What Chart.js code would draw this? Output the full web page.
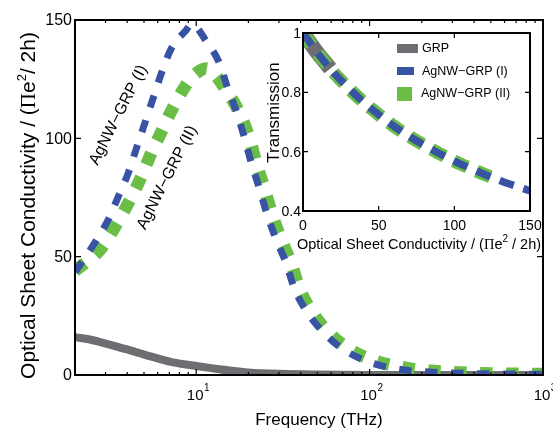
<!DOCTYPE html>
<html>
<head>
<meta charset="utf-8">
<script src="https://cdn.jsdelivr.net/npm/chart.js@4.4.1/dist/chart.umd.min.js"></script>
<style>
  html, body { margin: 0; padding: 0; background: #ffffff; overflow: hidden; }
  #wrap { position: relative; width: 553px; height: 429px; }
  canvas { position: absolute; left: 0; top: 0; }
</style>
</head>
<body>
<div id="wrap">
  <canvas id="main" width="553" height="429"></canvas>
  <canvas id="inset" width="553" height="429"></canvas>
</div>
<script>
// ---------------- Data ----------------
// Main panel: optical sheet conductivity vs frequency (THz)
const freqGRP  = [2, 2.5, 3.04, 4, 4.73, 6, 7.35, 10, 12.5, 16, 20, 30, 50, 100, 1000];
const sigmaGRP = [16, 14.8, 13.2, 10.8, 9.2, 7, 5.3, 3.8, 2.8, 1.8, 1.1, 0.5, 0.2, 0.05, 0];

const freqI  = [2, 2.55, 3.07, 3.55, 4.05, 4.52, 5.05, 5.64, 6.3, 7.19, 8.77, 9.4, 11.5, 13.6, 15.1, 17.1, 19.0, 20.8, 23.1, 25.7, 29.0, 33.0, 36.7, 43.6, 54.7, 71.3, 103, 158, 219, 400, 1000];
const sigmaI = [43.5, 54.9, 64.8, 75.3, 85.2, 95.8, 106.3, 116.9, 127.5, 138, 145.8, 148.3, 140.7, 131.8, 121.7, 111.1, 100.1, 89.6, 79.0, 67.6, 57.0, 47.3, 36.8, 26.6, 17.7, 10.6, 5.1, 2.1, 1.3, 0.6, 0.3];

const freqII  = [2, 2.78, 3.43, 4.05, 4.73, 5.45, 6.3, 7.35, 8.87, 10, 11.4, 12.8, 14.6, 17.4, 20.3, 22.2, 24.7, 27.5, 31, 35.3, 39.3, 46.7, 58.5, 76.2, 109, 162, 225, 400, 1000];
const sigmaII = [44, 52.8, 63.0, 72.5, 82.4, 93, 102.8, 113, 123.2, 127.5, 129.5, 127, 121.3, 112, 100, 89.6, 79, 67.6, 57, 47.3, 36.8, 26.6, 17.7, 11, 5.9, 3.0, 1.8, 0.8, 0.4];

// Inset: transmission vs optical sheet conductivity
const condGRP  = [0, 9, 18];
const transGRP = [1.0, 0.937, 0.88];
const condI  = [0, 10, 20, 30, 40, 50, 60, 70, 80, 90, 100, 110, 120, 130, 140, 150];
const transI = [1.0, 0.93, 0.868, 0.815, 0.767, 0.725, 0.686, 0.652, 0.622, 0.594, 0.568, 0.545, 0.523, 0.503, 0.485, 0.468];
const condII  = [0, 10, 20, 30, 40, 50, 60, 70, 80, 90, 100, 110, 120, 128];
const transII = [1.0, 0.93, 0.868, 0.815, 0.767, 0.725, 0.686, 0.652, 0.622, 0.594, 0.568, 0.545, 0.523, 0.507];

// Tick labels
const yTicksMain = [0, 50, 100, 150];
const xTicksMain = [10, 100, 1000];
const xTickExps  = ['1', '2', '3'];
const yTicksInset = [0.4, 0.6, 0.8, 1];
const yTickLabelsInset = ['0.4', '0.6', '0.8', '1'];
const xTicksInset = [0, 50, 100, 150];

const seriesNames = ['GRP', 'AgNW\u2212GRP (I)', 'AgNW\u2212GRP (II)'];
// annotation anchors (frequency, conductivity) for the rotated curve labels
const annotI  = [3.56, 109.8];
const annotII = [6.8, 83.4];

// ---------------- Styles ----------------
const GRAY = '#6D6E71', BLUE = '#3953A4', GREEN = '#6ABD45';
const SANS = '"Liberation Sans", Arial, sans-serif';
const SERIF = '"Liberation Serif", "Times New Roman", serif';

function pts(xs, ys) { return xs.map((v, i) => ({ x: v, y: ys[i] })); }

function drawRich(ctx, pieces, x, y, align, angle) {
  ctx.save();
  ctx.translate(x, y);
  ctx.rotate(angle || 0);
  ctx.textAlign = 'left';
  ctx.textBaseline = 'alphabetic';
  let total = 0;
  pieces.forEach(p => { ctx.font = p.f; p.w = ctx.measureText(p.t).width; total += p.w; });
  let cx = align === 'center' ? -total / 2 : (align === 'right' ? -total : 0);
  pieces.forEach(p => { ctx.font = p.f; ctx.fillText(p.t, cx, p.dy || 0); cx += p.w; });
  ctx.restore();
}

// ---------------- Main chart ----------------
const mainDecor = {
  id: 'mainDecor',
  afterDraw(chart) {
    const ctx = chart.ctx;
    const { left, right, top, bottom } = chart.chartArea;
    const xs = chart.scales.x, ys = chart.scales.y;
    ctx.save();
    ctx.strokeStyle = '#000';
    ctx.fillStyle = '#000';
    ctx.lineWidth = 2;
    ctx.strokeRect(left, top, right - left, bottom - top);
    // y ticks
    ctx.lineWidth = 1.2;
    ctx.font = '16px ' + SANS;
    ctx.textAlign = 'right';
    ctx.textBaseline = 'middle';
    yTicksMain.forEach(v => {
      const py = ys.getPixelForValue(v);
      ctx.beginPath();
      ctx.moveTo(left, py); ctx.lineTo(left + 6, py);
      ctx.moveTo(right, py); ctx.lineTo(right - 6, py);
      ctx.stroke();
      ctx.fillText(String(v), left - 3, py + 1);
    });
    // x ticks (log)
    const drawXTick = (v, len) => {
      const px = xs.getPixelForValue(v);
      ctx.beginPath();
      ctx.moveTo(px, bottom); ctx.lineTo(px, bottom - len);
      ctx.moveTo(px, top); ctx.lineTo(px, top + len);
      ctx.stroke();
    };
    [1, 10, 100].forEach(dec => {
      for (let m = 2; m <= 9; m++) {
        const v = m * dec;
        if (v > 2 && v < 1000) drawXTick(v, 3);
      }
    });
    xTicksMain.forEach((v, i) => {
      drawXTick(v, 6);
      const px = xs.getPixelForValue(v);
      ctx.font = '15px ' + SANS;
      const w = ctx.measureText('10').width;
      ctx.textAlign = 'left';
      ctx.textBaseline = 'alphabetic';
      ctx.fillText('10', px - 1 - w / 2, 400);
      ctx.font = '10px ' + SANS;
      ctx.fillText(xTickExps[i], px - 1 + w / 2 + 0.5, 391);
    });
    // axis titles
    drawRich(ctx, [{ t: 'Frequency (THz)', f: '17px ' + SANS }], 319, 425, 'center', 0);
    drawRich(ctx, [
      { t: 'Optical Sheet Conductivity / (', f: '21px ' + SANS },
      { t: '\u03A0', f: '21px ' + SERIF },
      { t: 'e', f: '21px ' + SANS },
      { t: '2', f: '13px ' + SANS, dy: -9 },
      { t: '/ 2h)', f: '21px ' + SANS }
    ], 35, 205.5, 'center', -Math.PI / 2);
    // rotated curve labels
    ctx.font = '16px ' + SANS;
    ctx.textAlign = 'center';
    ctx.textBaseline = 'middle';
    [[annotI, seriesNames[1]], [annotII, seriesNames[2]]].forEach(([a, txt]) => {
      const px = xs.getPixelForValue(a[0]), py = ys.getPixelForValue(a[1]);
      ctx.save();
      ctx.translate(px, py);
      ctx.rotate(-63 * Math.PI / 180);
      ctx.fillText(txt, 0, 0);
      ctx.restore();
    });
    ctx.restore();
  }
};

new Chart(document.getElementById('main'), {
  type: 'line',
  data: {
    datasets: [
      { label: seriesNames[0], data: pts(freqGRP, sigmaGRP), borderColor: GRAY, borderWidth: 8, order: 3, clip: 0, borderCapStyle: 'butt' },
      { label: seriesNames[1], data: pts(freqI, sigmaI), borderColor: BLUE, borderWidth: 7, borderDash: [12.5, 13.5], order: 1, clip: 0, borderCapStyle: 'butt' },
      { label: seriesNames[2], data: pts(freqII, sigmaII), borderColor: GREEN, borderWidth: 12.5, borderDash: [12.5, 13.5], order: 2, clip: 0, borderCapStyle: 'butt' }
    ]
  },
  options: {
    responsive: false,
    animation: false,
    devicePixelRatio: 1,
    layout: { padding: { left: 75, right: 10, top: 20, bottom: 54 } },
    elements: { point: { radius: 0 }, line: { cubicInterpolationMode: 'monotone', fill: false } },
    scales: {
      x: { type: 'logarithmic', min: 2, max: 1000, display: false },
      y: { type: 'linear', min: 0, max: 150, display: false }
    },
    plugins: { legend: { display: false }, tooltip: { enabled: false } }
  },
  plugins: [mainDecor]
});

// ---------------- Inset chart ----------------
const insetDecor = {
  id: 'insetDecor',
  afterDraw(chart) {
    const ctx = chart.ctx;
    const { left, right, top, bottom } = chart.chartArea;
    const xs = chart.scales.x, ys = chart.scales.y;
    ctx.save();
    ctx.strokeStyle = '#000';
    ctx.fillStyle = '#000';
    ctx.lineWidth = 2;
    ctx.strokeRect(left, top, right - left, bottom - top);
    ctx.lineWidth = 1.2;
    ctx.font = '14px ' + SANS;
    ctx.textAlign = 'right';
    ctx.textBaseline = 'middle';
    yTicksInset.forEach((v, i) => {
      const py = ys.getPixelForValue(v);
      ctx.beginPath();
      ctx.moveTo(left, py); ctx.lineTo(left + 5, py);
      ctx.moveTo(right, py); ctx.lineTo(right - 5, py);
      ctx.stroke();
      ctx.fillText(yTickLabelsInset[i], left - 2, py + 1);
    });
    ctx.textAlign = 'center';
    ctx.textBaseline = 'alphabetic';
    xTicksInset.forEach(v => {
      const px = xs.getPixelForValue(v);
      ctx.beginPath();
      ctx.moveTo(px, bottom); ctx.lineTo(px, bottom - 5);
      ctx.moveTo(px, top); ctx.lineTo(px, top + 5);
      ctx.stroke();
      ctx.fillText(String(v), px, 230);
    });
    // titles
    ctx.save();
    ctx.translate(274, 112.5);
    ctx.rotate(-Math.PI / 2);
    ctx.font = '17px ' + SANS;
    ctx.textAlign = 'center';
    ctx.textBaseline = 'middle';
    ctx.fillText('Transmission', 0, 0);
    ctx.restore();
    drawRich(ctx, [
      { t: 'Optical Sheet Conductivity / (', f: '14.5px ' + SANS },
      { t: '\u03A0', f: '14.5px ' + SERIF },
      { t: 'e', f: '14.5px ' + SANS },
      { t: '2', f: '10px ' + SANS, dy: -7 },
      { t: ' / 2h)', f: '14.5px ' + SANS }
    ], 419, 249, 'center', 0);
    // legend
    const ds = chart.data.datasets;
    ctx.fillStyle = ds[0].borderColor; ctx.fillRect(397, 44, 21, 9);
    ctx.fillStyle = ds[1].borderColor; ctx.fillRect(397, 67, 17, 8);
    ctx.fillStyle = ds[2].borderColor; ctx.fillRect(397, 87, 15, 14);
    ctx.fillStyle = '#000';
    ctx.font = '12.5px ' + SANS;
    ctx.textAlign = 'left';
    ctx.textBaseline = 'middle';
    ctx.fillText(ds[0].label, 422, 48.5);
    ctx.fillText(ds[1].label, 422, 71.5);
    ctx.fillText(ds[2].label, 421, 94);
    ctx.restore();
  }
};

new Chart(document.getElementById('inset'), {
  type: 'line',
  data: {
    datasets: [
      { label: seriesNames[0], data: pts(condGRP, transGRP), borderColor: GRAY, borderWidth: 15, order: 3, clip: 0, borderCapStyle: 'butt' },
      { label: seriesNames[1], data: pts(condI, transI), borderColor: BLUE, borderWidth: 7.5, borderDash: [15, 10], order: 1, clip: 0, borderCapStyle: 'butt' },
      { label: seriesNames[2], data: pts(condII, transII), borderColor: GREEN, borderWidth: 13, borderDash: [15, 10], order: 2, clip: 0, borderCapStyle: 'butt' }
    ]
  },
  options: {
    responsive: false,
    animation: false,
    devicePixelRatio: 1,
    layout: { padding: { left: 303, right: 23, top: 33, bottom: 218 } },
    elements: { point: { radius: 0 }, line: { cubicInterpolationMode: 'monotone', fill: false } },
    scales: {
      x: { type: 'linear', min: 0, max: 150, display: false },
      y: { type: 'linear', min: 0.4, max: 1, display: false }
    },
    plugins: { legend: { display: false }, tooltip: { enabled: false } }
  },
  plugins: [insetDecor]
});
</script>
</body>
</html>
